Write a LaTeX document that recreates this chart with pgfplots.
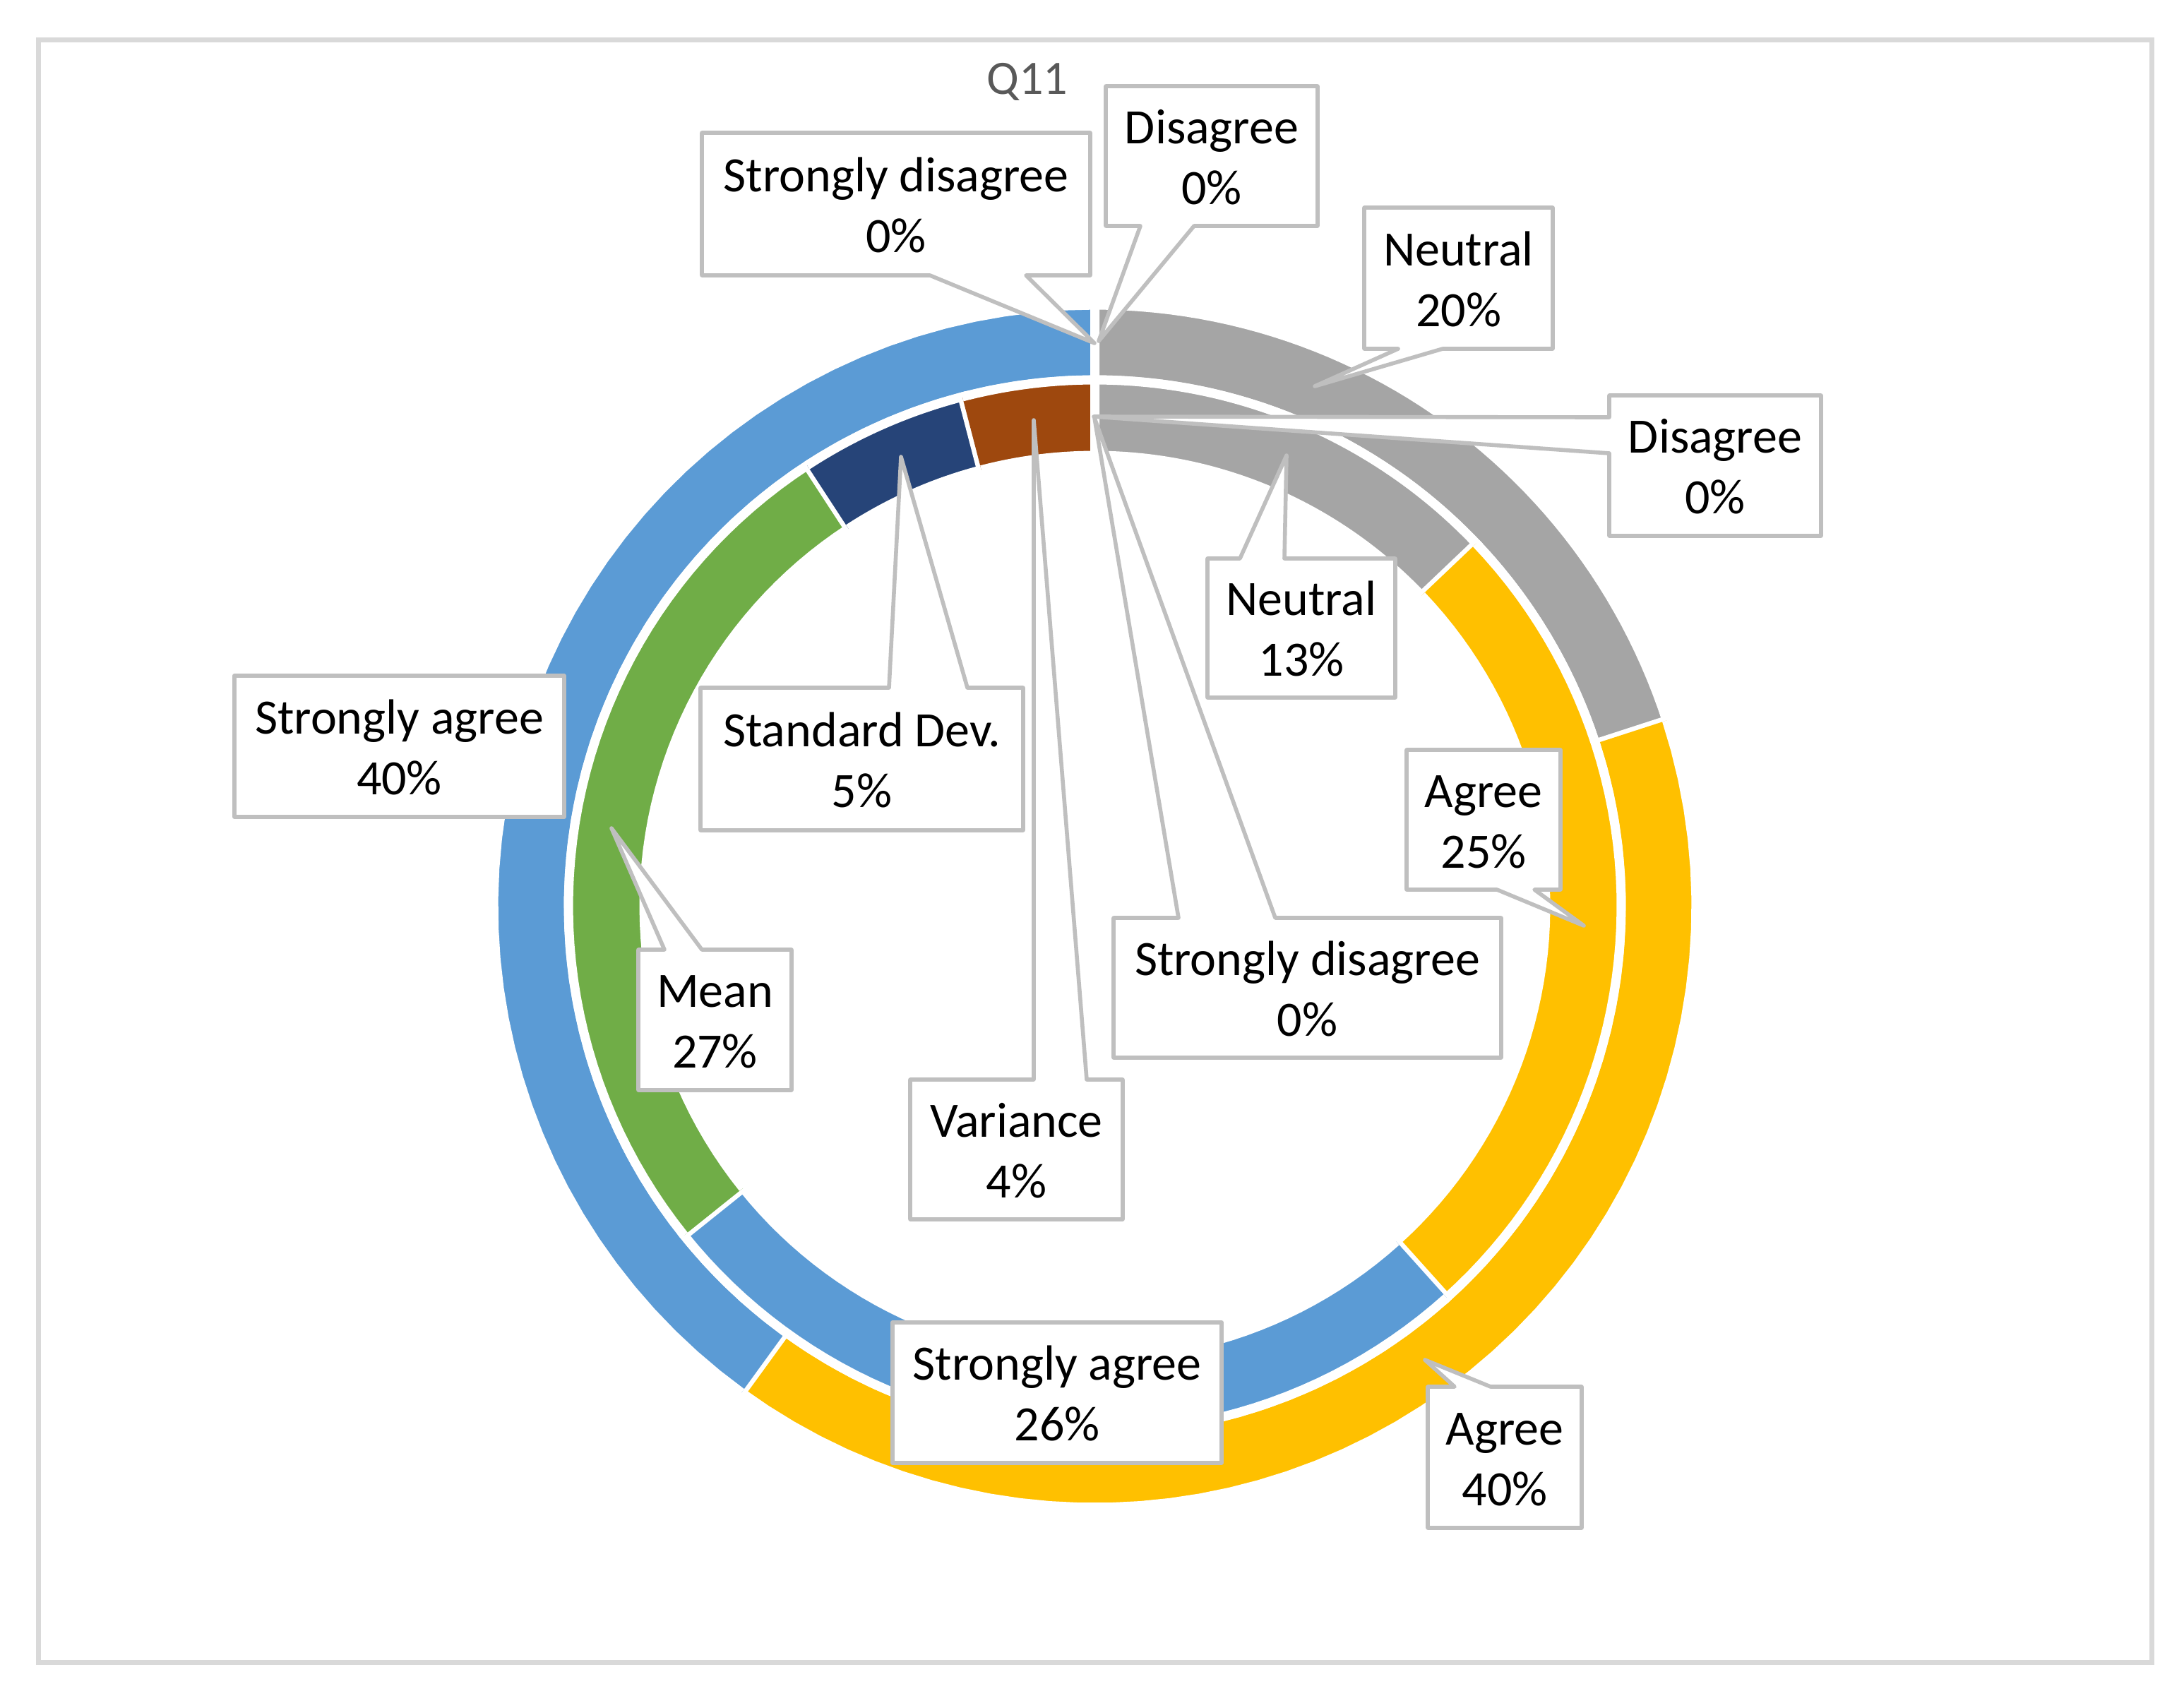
\documentclass[border=0pt]{standalone}
\usepackage{pgfplots}
\usepackage{pgfplotstable}
\pgfplotsset{compat=1.18}
\usepackage{fontspec}
\setmainfont{Carlito}

\definecolor{cblue}{HTML}{5B9BD5}
\definecolor{cgray}{HTML}{A5A5A5}
\definecolor{cgold}{HTML}{FFC000}
\definecolor{cgreen}{HTML}{70AD47}
\definecolor{cnavy}{HTML}{264478}
\definecolor{cbrown}{HTML}{9E480E}
\definecolor{cline}{HTML}{BFBFBF}
\definecolor{cframe}{HTML}{D9D9D9}
\definecolor{ctitle}{HTML}{595959}

% outer ring
\pgfplotstableread{
pct color
0   cblue
0   cgray
20  cgray
40  cgold
40  cblue
}\outerring

% inner ring (shares; labels show them rounded)
\pgfplotstableread{
pct   color
0     cblue
0     cgray
12.9  cgray
25.45 cgold
25.9  cblue
26.55 cgreen
5.15  cnavy
4.05  cbrown
}\innerring

% one ring segment: colour, start angle, end angle, inner r, outer r
\newcommand\seg[5]{%
  \addplot[fill=#1, draw=white, line width=3.25pt, variable=\t, samples at={0,...,101}]
    ({1550.5+((\t<50.5)?#5:#4)*sin((\t<50.5)?(#2+(#3-#2)*\t/50):(#3-(#3-#2)*(\t-51)/50))},
     {1283.5-((\t<50.5)?#5:#4)*cos((\t<50.5)?(#2+(#3-#2)*\t/50):(#3-(#3-#2)*(\t-51)/50))});
}

\newcommand\ring[4]{% table, last row, inner r, outer r
  \pgfmathsetmacro\cum{0}
  \pgfplotsforeachungrouped \i in {0,...,#2}{
    \pgfplotstablegetelem{\i}{pct}\of#1\let\v\pgfplotsretval
    \pgfplotstablegetelem{\i}{color}\of#1\let\c\pgfplotsretval
    \pgfmathsetmacro\a{3.6*\cum}
    \pgfmathsetmacro\cum{\cum+\v}
    \pgfmathsetmacro\b{3.6*\cum}
    \ifdim\v pt>0pt
      \edef\cmd{\noexpand\seg{\c}{\a}{\b}{#3}{#4}}\cmd
    \fi
  }
}

\newcommand\labfont{\fontsize{17.5}{21}\selectfont}
\newcommand\lab[4]{%
  \node[anchor=base, font=\labfont] at (axis cs:#1,#2-18) {#3};
  \node[anchor=base, font=\labfont] at (axis cs:#1,#2+68) {#4};
}

\begin{document}
\begin{tikzpicture}
\begin{axis}[
  width=773.25pt, height=602.75pt, scale only axis,
  xmin=0, xmax=3093, ymin=0, ymax=2411,
  y dir=reverse,
  hide axis, clip=false,
]
\path[fill=white] (axis cs:0,0) rectangle (axis cs:3093,2411);
\draw[cframe, line width=1.75pt] (axis cs:54.5,56.5) rectangle (axis cs:3047,2354);

\ring{\outerring}{4}{745.5}{851.5}
\ring{\innerring}{7}{638.5}{745.5}

\node[anchor=base, text=ctitle, font=\fontsize{17}{20}\selectfont] at (axis cs:1455,133) {Q11};

\begin{scope}[draw=cline, line width=1.4pt, fill=white, line join=round]
% outer ring labels
\filldraw (axis cs:994,188) -- (axis cs:1544,188) -- (axis cs:1544,390) -- (axis cs:1453,390)
  -- (axis cs:1550,486) -- (axis cs:1317,390) -- (axis cs:994,390) -- cycle;
\lab{1269}{289}{Strongly disagree}{0\%}
\filldraw (axis cs:1566,122) -- (axis cs:1866,122) -- (axis cs:1866,320) -- (axis cs:1691,320)
  -- (axis cs:1556,483) -- (axis cs:1615,320) -- (axis cs:1566,320) -- cycle;
\lab{1716}{221}{Disagree}{0\%}
\filldraw (axis cs:1932,294) -- (axis cs:2199,294) -- (axis cs:2199,494) -- (axis cs:2043,494)
  -- (axis cs:1862,547) -- (axis cs:1980,494) -- (axis cs:1932,494) -- cycle;
\lab{2065.5}{394}{Neutral}{20\%}
\filldraw (axis cs:2022,1964) -- (axis cs:2060,1964) -- (axis cs:2018,1926) -- (axis cs:2111,1964)
  -- (axis cs:2240,1964) -- (axis cs:2240,2164) -- (axis cs:2022,2164) -- cycle;
\lab{2131}{2064}{Agree}{40\%}
\filldraw (axis cs:332,957) rectangle (axis cs:799,1157);
\lab{565.5}{1057}{Strongly agree}{40\%}
% inner ring labels
\filldraw (axis cs:2279,560) -- (axis cs:2579,560) -- (axis cs:2579,759) -- (axis cs:2279,759)
  -- (axis cs:2279,642) -- (axis cs:1549,590) -- (axis cs:2279,591) -- cycle;
\lab{2429}{659.5}{Disagree}{0\%}
\filldraw (axis cs:1577,1300) -- (axis cs:1669,1300) -- (axis cs:1550,592) -- (axis cs:1806,1300)
  -- (axis cs:2126,1300) -- (axis cs:2126,1498) -- (axis cs:1577,1498) -- cycle;
\lab{1851.5}{1399}{Strongly disagree}{0\%}
\filldraw (axis cs:1710,791) -- (axis cs:1756,791) -- (axis cs:1822,645) -- (axis cs:1819,791)
  -- (axis cs:1976,791) -- (axis cs:1976,988) -- (axis cs:1710,988) -- cycle;
\lab{1843}{889.5}{Neutral}{13\%}
\filldraw (axis cs:1992,1062) -- (axis cs:2210,1062) -- (axis cs:2210,1260) -- (axis cs:2173,1260)
  -- (axis cs:2243,1311) -- (axis cs:2120,1260) -- (axis cs:1992,1260) -- cycle;
\lab{2101}{1161}{Agree}{25\%}
\filldraw (axis cs:1289,1529) -- (axis cs:1464,1529) -- (axis cs:1464,595) -- (axis cs:1539,1529)
  -- (axis cs:1590,1529) -- (axis cs:1590,1727) -- (axis cs:1289,1727) -- cycle;
\lab{1439.5}{1628}{Variance}{4\%}
\filldraw (axis cs:992,974) -- (axis cs:1259,974) -- (axis cs:1276,647) -- (axis cs:1370,974)
  -- (axis cs:1449,974) -- (axis cs:1449,1176) -- (axis cs:992,1176) -- cycle;
\lab{1220.5}{1075}{Standard Dev.}{5\%}
\filldraw (axis cs:904,1345) -- (axis cs:941,1345) -- (axis cs:866,1173) -- (axis cs:994,1345)
  -- (axis cs:1121,1345) -- (axis cs:1121,1544) -- (axis cs:904,1544) -- cycle;
\lab{1012.5}{1444.5}{Mean}{27\%}
\filldraw (axis cs:1264,1873) rectangle (axis cs:1730,2072);
\lab{1497}{1972.5}{Strongly agree}{26\%}
\end{scope}
\end{axis}
\end{tikzpicture}
\end{document}
